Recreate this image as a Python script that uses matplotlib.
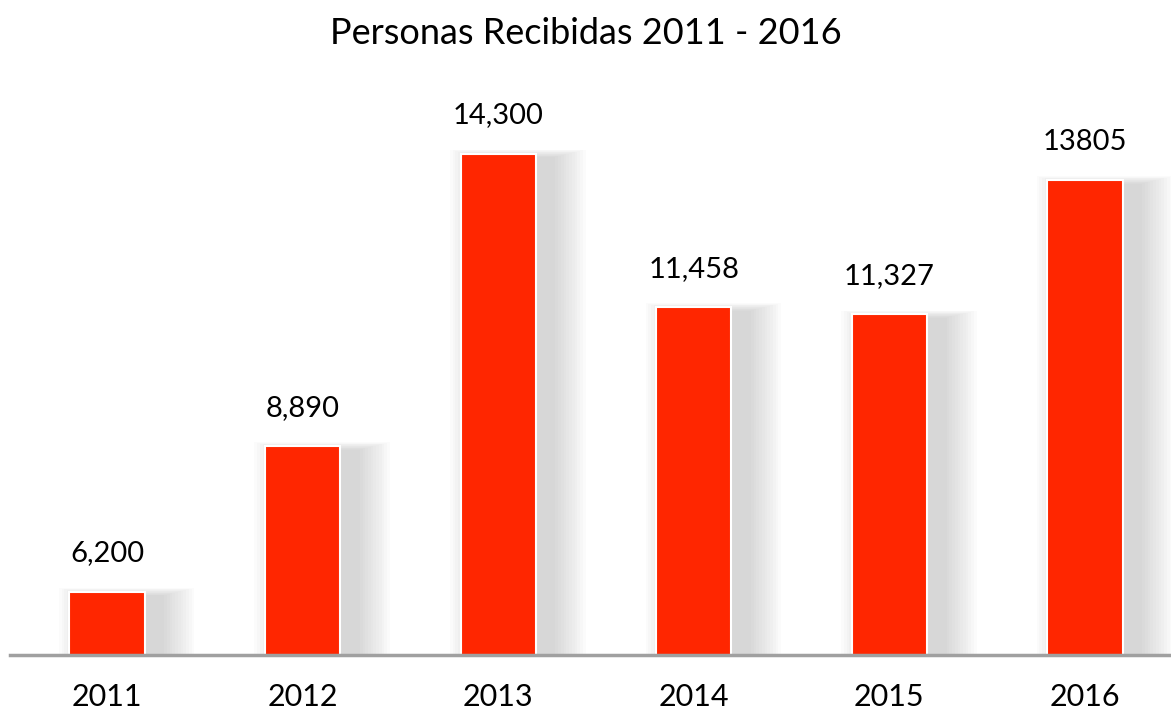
import matplotlib.pyplot as plt

plt.rcParams['font.family'] = ['Lato', 'DejaVu Sans']

# datos
years = ['2011', '2012', '2013', '2014', '2015', '2016']
personas = [6200, 8890, 14300, 11458, 11327, 13805]
labels = ['6,200', '8,890', '14,300', '11,458', '11,327', '13805']

fig = plt.figure(figsize=(11.71, 7.15), dpi=100)
ax = fig.add_axes([10 / 1171, 60 / 715, 1161 / 1171, 555 / 715])

x = list(range(len(years)))
w = 0.385

# sombra difusa a la derecha de cada barra
for k in range(12):
    ax.bar([i + 0.1 for i in x], [v - 60 + 12 * k for v in personas],
           width=w + 0.028 * k, color='#707070', alpha=0.022,
           linewidth=0, zorder=1)

ax.bar(x, personas, width=w, color='#ff2600', edgecolor='white',
       linewidth=1.5, zorder=3)

for i, v in enumerate(personas):
    ax.text(i, v + 470, labels[i], ha='center', va='bottom', fontsize=21)

ax.set_xlim(-0.496, 5.44)
ax.set_ylim(5035, 15290)
ax.set_xticks(x)
ax.set_xticklabels(years, fontsize=22)
ax.tick_params(axis='x', length=0, pad=20)
ax.set_yticks([])
for s in ['top', 'right', 'left']:
    ax.spines[s].set_visible(False)
ax.spines['bottom'].set_color('#a0a0a0')
ax.spines['bottom'].set_linewidth(2.5)
ax.spines['bottom'].set_zorder(5)

fig.text(0.5, 1 - 33 / 715, 'Personas Recibidas 2011 - 2016',
         ha='center', va='center', fontsize=26)

fig.savefig('out.png', dpi=100)
